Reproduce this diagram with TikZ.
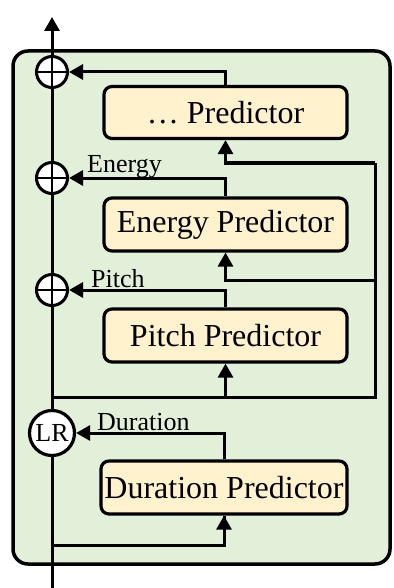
\documentclass[tikz,border=0pt]{standalone}
\usepackage{fontspec}
\setmainfont{Liberation Serif}
\usetikzlibrary{arrows.meta}
\definecolor{outerfill}{HTML}{E2EFD9}
\definecolor{boxfill}{HTML}{FFF2CC}
\begin{document}
\begin{tikzpicture}[x=1pt,y=-1pt,
  predbox/.style={draw, line width=3.2pt, rounded corners=8pt, fill=boxfill,
    minimum width=243pt, minimum height=52pt, inner sep=0pt,
    font=\fontsize{32}{36}\selectfont},
  plus/.style={circle, draw, line width=3pt, fill=white, minimum size=31pt, inner sep=0pt,
    path picture={\draw[line width=2.8pt] (path picture bounding box.north) -- (path picture bounding box.south)
      (path picture bounding box.west) -- (path picture bounding box.east);}},
  lrc/.style={circle, draw, line width=3.2pt, fill=white, minimum size=45pt, inner sep=0pt,
    font=\fontsize{26}{30}\selectfont},
  lbl/.style={inner sep=0pt, anchor=base west, font=\fontsize{26}{30}\selectfont},
  ln/.style={line width=3pt},
  arr/.style={line width=3pt, -{Triangle[length=14pt,width=15pt]}}
]
\useasboundingbox (0,0) rectangle (393,588);
\path[draw, fill=outerfill, line width=3.5pt, rounded corners=15pt] (13,51) rectangle (390,564);

\node[predbox] (p3) at (225.5,112.5) {\dots\ Predictor};
\node[predbox, minimum height=53pt] (en) at (225.5,224.5) {Energy Predictor};
\node[predbox, minimum height=53pt] (pi) at (225.5,335.5) {Pitch Predictor};
\node[predbox, minimum height=53pt, minimum width=246pt] (du) at (224,487.5) {Duration Predictor};

\node[plus] (o1) at (52,72) {};
\node[plus] (o2) at (52,178) {};
\node[plus] (o3) at (52,290) {};
\node[lrc] (lr) at (52,433) {LR};

\coordinate (bot) at (52,588);
\coordinate (top) at (52,17);
\coordinate (m1) at (52,397);
\coordinate (m2) at (52,545);
\coordinate (r1) at (375,397);
\coordinate (r2) at (375,280);
\coordinate (r3) at (375,163);

% main trunk
\draw[ln] (bot) -- (lr.south);
\draw[ln] (lr.north) -- (o3.south);
\draw[ln] (o3.north) -- (o2.south);
\draw[ln] (o2.north) -- (o1.south);
\draw[arr] (o1.north) -- (top);

% predictor outputs
\draw[arr] (p3.north) |- (o1.east);
\draw[arr] (en.north) |- (o2.east);
\draw[arr] (pi.north) |- (o3.east);
\draw[arr] (du.north) |- (lr.east);

% inputs
\draw[ln] (m2) -| (du.south);
\draw[arr] (m2 -| du.south) -- (du.south);
\draw[ln] (m1) -- (r1) -- (r3);
\draw[arr] (m1 -| pi.south) -- (pi.south);
\draw[arr] (r2) -| (en.south);
\draw[arr] (r3) -| (p3.south);

% labels
\node[lbl] at (87,172) {Energy};
\node[lbl] at (91,287) {Pitch};
\node[lbl] at (97,430) {Duration};
\end{tikzpicture}
\end{document}
